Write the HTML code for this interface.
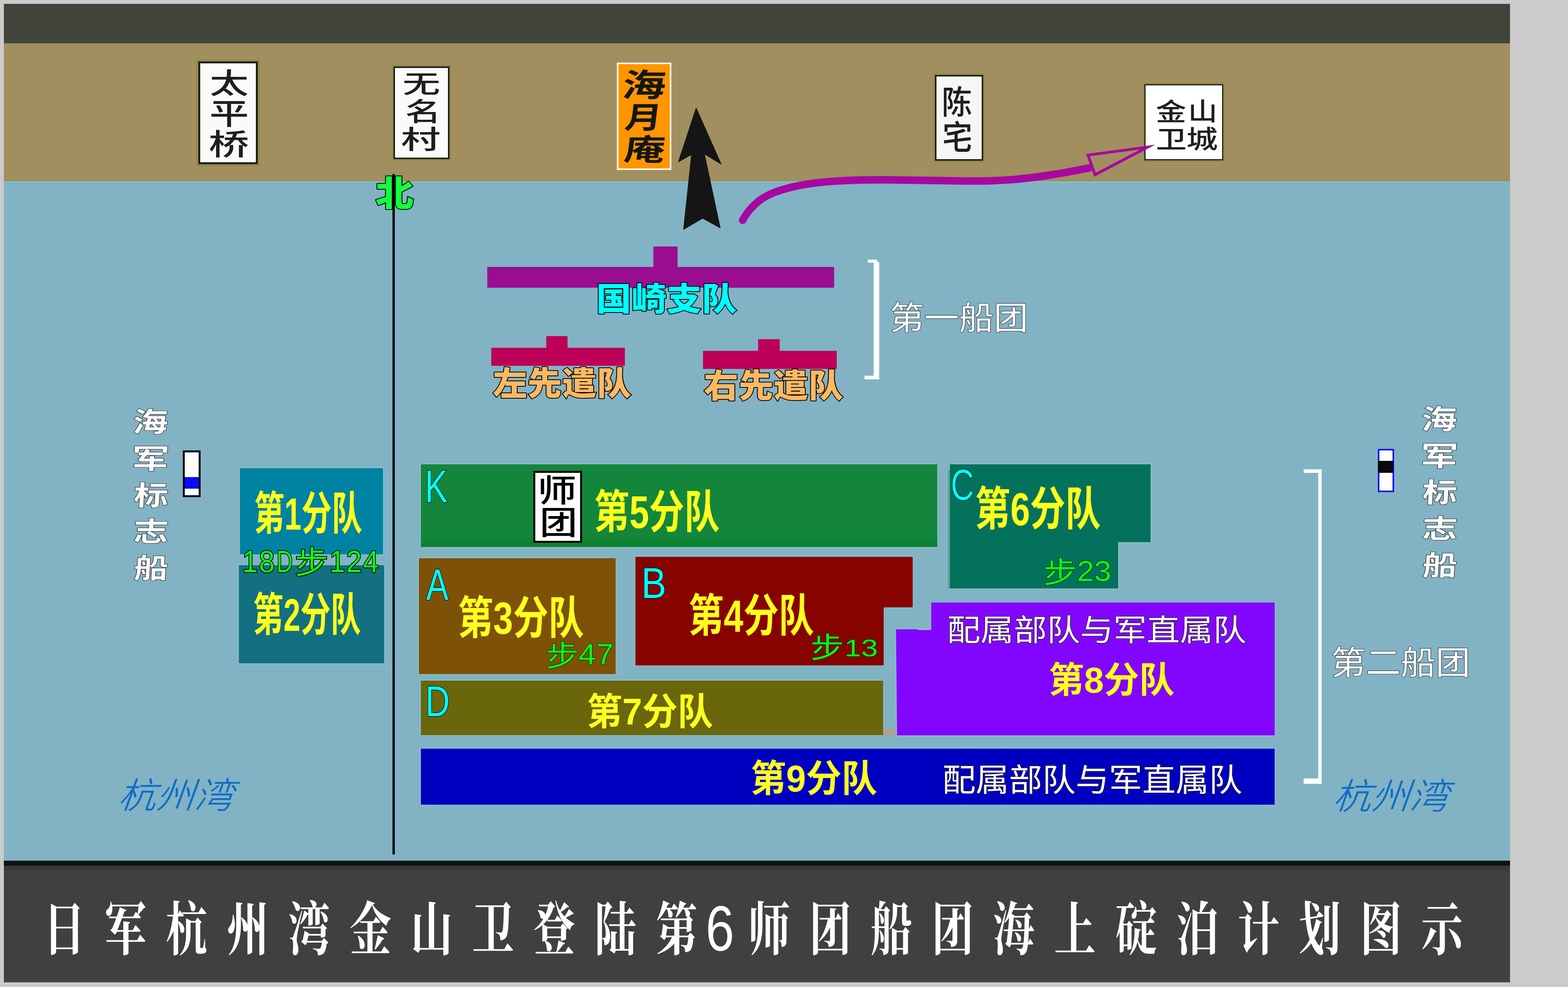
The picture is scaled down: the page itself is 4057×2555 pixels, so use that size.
<!DOCTYPE html><html lang="zh"><head><meta charset="utf-8"><title>日军杭州湾金山卫登陆第6师团船团海上碇泊计划图示</title><style>html,body{margin:0;padding:0}
body{width:4057px;height:2555px;background:#cbcbcb;position:relative;overflow:hidden;font-family:"Liberation Sans",sans-serif}
.r{position:absolute}
svg{position:absolute;left:0;top:0}
svg path{vector-effect:non-scaling-stroke}
.t{position:absolute;color:transparent;font-size:20px;line-height:1;overflow:hidden;white-space:nowrap}
</style></head><body>
<div class="r" style="left:10.0px;top:10.0px;width:3897.0px;height:101.5px;background:#42453b;"></div>
<div class="r" style="left:10.0px;top:111.5px;width:3897.0px;height:357.5px;background:#a28f5f;"></div>
<div class="r" style="left:10.0px;top:469.0px;width:3897.0px;height:1759.0px;background:#81b3c5;"></div>
<div class="r" style="left:10.0px;top:466.5px;width:3897.0px;height:2.5px;background:#958c48;"></div>
<div class="r" style="left:10.0px;top:469.0px;width:3897.0px;height:2.0px;background:#84c6c2;"></div>
<div class="r" style="left:10.0px;top:2228.0px;width:3897.0px;height:315.0px;background:#3f4040;background:linear-gradient(#10140f 0,#10140f 12.5px,#383a39 12.5px,#383a39 25px,#3f4040 25px,#3f4040 300px,#48483c 315px)"></div>
<div class="r" style="left:513.0px;top:159.0px;width:154.0px;height:266.0px;background:#fafafa;border:5.0px solid #1b2017;box-sizing:border-box;box-shadow:0 0 0 5px rgba(140,130,50,.55);"></div>
<div class="r" style="left:1018.0px;top:172.0px;width:144.6px;height:239.6px;background:#fafafa;border:4.5px solid #1b2017;box-sizing:border-box;box-shadow:0 0 0 4px rgba(140,130,50,.5);"></div>
<div class="r" style="left:1595.6px;top:162.3px;width:141.8px;height:277.7px;background:#ff9500;border:4.6px solid #fdfdf0;box-sizing:border-box;"></div>
<div class="r" style="left:2418.8px;top:194.0px;width:125.3px;height:222.0px;background:#f6f6f6;border:4.6px solid #1b2017;box-sizing:border-box;box-shadow:0 0 0 4px rgba(140,130,50,.5);"></div>
<div class="r" style="left:2961.0px;top:218.0px;width:204.4px;height:196.7px;background:#ffffff;border:3.8px solid #1b2017;box-sizing:border-box;box-shadow:0 0 0 4px rgba(140,130,50,.5);"></div>
<div class="r" style="left:472.7px;top:1165.9px;width:46.2px;height:120.8px;background:linear-gradient(#fff 0,#fff 64.3px,#0a0aff 64.3px,#0a0aff 94px,#fff 94px);border:5.0px solid #000;box-sizing:border-box;"></div>
<div class="r" style="left:3565.2px;top:1161.9px;width:41.6px;height:112.1px;background:#fff;border:4.3px solid #0a0aff;box-sizing:border-box;"></div>
<div class="r" style="left:3565.2px;top:1193.2px;width:40.3px;height:30.7px;background:#0a0a0a;"></div>
<div class="r" style="left:621.4px;top:1212.1px;width:369.4px;height:222.8px;background:#0082a2;box-shadow:0 0 0 3px rgba(150,205,190,.3);"></div>
<div class="r" style="left:617.7px;top:1462.6px;width:376.1px;height:254.9px;background:#137080;box-shadow:0 0 0 3px rgba(150,205,190,.3);"></div>
<div class="r" style="left:1089.2px;top:1202.4px;width:1335.8px;height:213.6px;background:#14863b;box-shadow:0 0 0 3px rgba(150,205,190,.3);background:linear-gradient(#14863b 0,#14863b 185px,#0c8230 205px)"></div>
<div class="r" style="left:1083.7px;top:1444.9px;width:509.6px;height:300.3px;background:#7e5108;box-shadow:0 0 0 3px rgba(150,205,190,.3);"></div>
<div class="r" style="left:1089.2px;top:1762.3px;width:1196.1px;height:140.9px;background:#69660b;box-shadow:0 0 0 3px rgba(150,205,190,.3);"></div>
<div class="r" style="left:2284.7px;top:1885.5px;width:35.8px;height:18.0px;background:#a8a295;"></div>
<div class="r" style="left:1089.2px;top:1938.4px;width:2208.8px;height:144.6px;background:#0000c0;box-shadow:0 0 0 3px rgba(150,205,190,.3);"></div>
<div class="r" style="left:2452.5px;top:1217.0px;width:6.5px;height:306.2px;background:#4f9c85;"></div>
<div class="r" style="left:1380.3px;top:1219.2px;width:125.6px;height:186.2px;background:#fff;border:5.0px solid #000;box-sizing:border-box;"></div>
<svg width="4057" height="2555" viewBox="0 0 4057 2555">
<g font-family="'Liberation Sans','Noto Sans CJK SC',sans-serif" font-weight="500" fill="#1e1e1e">
<text transform="matrix(1.3753 0 0 1 542.17 241.96)" font-size="73.41">太</text>
<text transform="matrix(1.3212 0 0 1 542.01 322.01)" font-size="77.03">平</text>
<text transform="matrix(1.3779 0 0 1 540.09 400.92)" font-size="75.86">桥</text>
<text transform="matrix(1.5236 0 0 1 1041.58 239.52)" font-size="64.08">无</text>
<text transform="matrix(1.3798 0 0 1 1048.40 312.98)" font-size="66.95">名</text>
<text transform="matrix(1.5258 0 0 1 1037.33 385.33)" font-size="67.34">村</text>
<text transform="matrix(0.9468 0 0 1 2436.14 295.39)" font-size="83.69">陈</text>
<text transform="matrix(0.9112 0 0 1 2438.01 386.56)" font-size="85.93">宅</text>
<text transform="matrix(1.2360 0 0 1 2990.24 312.48)" font-size="64.14">金</text>
<text transform="matrix(1.1863 0 0 1 3074.09 310.84)" font-size="63.72">山</text>
<text transform="matrix(1.2435 0 0 1 2990.49 382.53)" font-size="64.16">卫</text>
<text transform="matrix(1.2327 0 0 1 3069.57 384.25)" font-size="66.09">城</text>
</g>
<g font-family="'Liberation Sans','Noto Sans CJK SC',sans-serif" font-weight="700" fill="#15170f">
<text transform="matrix(1.3587 0 -0.1228 1 1607.08 250.18)" font-size="83.15">海</text>
<text transform="matrix(1.2275 0 -0.1228 1 1614.02 332.40)" font-size="77.8">月</text>
<text transform="matrix(1.3731 0 -0.1229 1 1612.05 415.31)" font-size="76.92">庵</text>
</g>
<text transform="matrix(1.0900 0 0 1 971.31 533.06)" font-size="90.9" font-family="'Liberation Sans','Noto Sans CJK SC',sans-serif" font-weight="900" fill="#14ff3c" stroke="#000" stroke-width="4" stroke-linejoin="round" paint-order="stroke">北</text>
<rect x="1015.5" y="450.5" width="6" height="1761.5" fill="#000"/>
<path d="M1801.2 279.6 L1866.1 425 L1822.7 398.5 L1863.5 590 L1818.1 565.1 L1768.5 594 L1789.2 400.3 L1755.1 419.2 Z" fill="#151515" stroke="#151515" stroke-width="1.5" stroke-linejoin="round"/>
<path d="M1921.5 570.3 C1935 545 1950 532 1963 520.4 C1990 500 2020 492 2046 485 C2075 478 2100 474.5 2129 471.4 C2160 468.5 2185 467 2212 466.4 C2245 465.6 2270 465.6 2295 465.6 C2340 466 2380 466.8 2420 467.3 C2465 468.2 2505 469 2544.5 468.5 C2575 468 2600 466.5 2627.5 464.4 C2655 461.5 2685 458 2710.6 454 C2740 449.5 2768 444.5 2793.7 439.5 C2805 437.5 2813 436 2823 433.8" fill="none" stroke="#a608a1" stroke-width="19.5"/><circle cx="1921.5" cy="570.3" r="9.75" fill="#a608a1"/>
<path d="M2969.6 380.8 L2815 401.5 L2833.3 452.3 Z" fill="none" stroke="#a608a1" stroke-width="7.2" stroke-linejoin="miter" stroke-miterlimit="12"/>
<path d="M1260.7 691H1690.5V638H1753.1V691H2158.2V744.8H1260.7Z" fill="#9b0d90"/>
<path d="M1271.1 900.2H1413.4V870H1468.5V900.2H1616.8V946.9H1271.1Z" fill="#bd0058"/>
<path d="M1818.9 908.2H1961.6V877.9H2017.5V908.2H2165V954.9H1818.9Z" fill="#bd0058"/>
<g font-family="'Liberation Sans','Noto Sans CJK SC',sans-serif" font-weight="900" stroke="#000" stroke-width="4" stroke-linejoin="round" paint-order="stroke">
<text transform="matrix(1.0880 0 0 1 1542.53 804.39)" font-size="83.74" fill="#00ffff">国崎支队</text>
<text transform="matrix(1.0494 0 0 1 1274.73 1022.85)" font-size="85.55" fill="#fdb863">左先遣队</text>
<text transform="matrix(1.0673 0 0 1 1820.55 1028.93)" font-size="84.71" fill="#fdb863">右先遣队</text>
</g>
<path d="M2245 672H2269V678H2274.8V982H2236.8V972.4H2260.5V680H2245Z" fill="#fff"/>
<text transform="matrix(1.0605 0 0 1 2302.03 853.03)" font-size="84.5" font-family="'Liberation Sans','Noto Sans CJK SC',sans-serif" fill="#fff" stroke="#333" stroke-width="2.4" stroke-linejoin="round" paint-order="stroke">第一船团</text>
<g font-family="'Liberation Sans','Noto Sans CJK SC',sans-serif" font-weight="700" fill="#fbfbfb" stroke="#333" stroke-width="2.4" stroke-linejoin="round" paint-order="stroke">
<text transform="matrix(1.2810 0 -0.0524 1 342.33 1118.19)" font-size="71.6">海</text>
<text transform="matrix(1.3653 0 -0.0525 1 339.39 1213.42)" font-size="71.1">军</text>
<text transform="matrix(1.2678 0 -0.0525 1 344.97 1307.50)" font-size="70.53">标</text>
<text transform="matrix(1.3090 0 -0.0524 1 343.85 1400.91)" font-size="69.84">志</text>
<text transform="matrix(1.2504 0 -0.0524 1 345.45 1496.00)" font-size="70.94">船</text>
<text transform="matrix(1.2899 0 -0.0524 1 3676.61 1111.49)" font-size="71.6">海</text>
<text transform="matrix(1.3750 0 -0.0525 1 3673.64 1206.12)" font-size="71.1">军</text>
<text transform="matrix(1.2788 0 -0.0524 1 3679.26 1300.11)" font-size="70.42">标</text>
<text transform="matrix(1.3546 0 -0.0523 1 3678.13 1392.76)" font-size="68.02">志</text>
<text transform="matrix(1.2592 0 -0.0524 1 3679.74 1489.40)" font-size="70.94">船</text>
</g>
<path d="M2457.6 1202.0 L2977.0 1202.0 L2977.0 1403.4 L2893.0 1403.4 L2893.0 1523.2 L2457.6 1523.2 Z" fill="#04715d" stroke="rgba(150,205,190,.3)" stroke-width="6" paint-order="stroke"/>
<path d="M1644.0 1441.6 L2361.5 1441.6 L2361.5 1572.2 L2286.5 1572.2 L2286.5 1722.5 L1644.0 1722.5 Z" fill="#860300" stroke="rgba(150,205,190,.3)" stroke-width="6" paint-order="stroke"/>
<path d="M2409.4 1559.5 L3298.1 1559.5 L3298.1 1903.6 L2321.0 1903.6 L2318.3 1629.0 L2375.0 1629.0 L2375.0 1631.0 L2409.4 1631.0 Z" fill="#8205fd" stroke="rgba(150,205,190,.3)" stroke-width="6" paint-order="stroke"/>
<g font-family="'Liberation Sans','Noto Sans CJK SC',sans-serif" font-weight="700" fill="#ffff1e">
<text transform="matrix(0.6683 0 0 1 657.45 1371.47)" font-size="117.68">第1分队</text>
<text transform="matrix(0.6621 0 0 1 654.85 1632.69)" font-size="118.63">第2分队</text>
<text transform="matrix(0.7741 0 0 1 1537.10 1366.53)" font-size="118.11">第5分队</text>
<text transform="matrix(0.7622 0 0 1 2522.70 1359.56)" font-size="120">第6分队</text>
<text transform="matrix(0.7864 0 0 1 1184.39 1641.06)" font-size="116.74">第3分队</text>
<text transform="matrix(0.7802 0 0 1 1781.20 1635.12)" font-size="117.16">第4分队</text>
<text transform="matrix(0.9795 0 0 1 2713.40 1793.10)" font-size="93.47">第8分队</text>
<text transform="matrix(0.9562 0 0 1 1518.18 1875.75)" font-size="96.21">第7分队</text>
<text transform="matrix(0.9566 0 0 1 1941.88 2048.54)" font-size="96.32">第9分队</text>
</g>
<g font-family="'Liberation Sans',sans-serif" fill="#00ffff" stroke="#1a0808" stroke-width="3" stroke-linejoin="round" paint-order="stroke">
<text transform="matrix(0.7421 0 0 1 1099.28 1300.20)" font-size="119.33">K</text>
<text transform="matrix(0.7369 0 0 1 2460.07 1294.40)" font-size="113.13">C</text>
<text transform="matrix(0.7533 0 0 1 1102.63 1552.60)" font-size="115.12">A</text>
<text transform="matrix(0.8770 0 0 1 1659.23 1547.80)" font-size="110.76">B</text>
<text transform="matrix(0.7896 0 0 1 1100.40 1853.50)" font-size="111.19">D</text>
</g>
<g font-family="'Liberation Sans','Noto Sans CJK SC',sans-serif" font-weight="500" fill="#000">
<text transform="matrix(1.2366 0 0 1 1390.81 1298.50)" font-size="81.71">师</text>
<text transform="matrix(1.1605 0 0 1 1396.19 1382.85)" font-size="84.12">团</text>
</g>
<g font-family="'Liberation Sans','Noto Sans CJK SC',sans-serif" fill="#0aff14" stroke="#000" stroke-width="4" stroke-linejoin="round" paint-order="stroke">
<text transform="matrix(0.9112 0 0 1 626.53 1480.87)" font-size="80.32" letter-spacing="3">18</text>
<text transform="matrix(0.7279 0 0 1 715.58 1480.87)" font-size="79.86">D</text>
<text transform="matrix(1.0672 0 0 1 762.82 1485.23)" font-size="81.38">步</text>
<text transform="matrix(0.9112 0 0 1 852.18 1480.87)" font-size="80.32" letter-spacing="3">124</text>
</g>
<g font-family="'Liberation Sans','Noto Sans CJK SC',sans-serif" fill="#0aff14" stroke="#0c2600" stroke-width="2.4" stroke-linejoin="round" paint-order="stroke">
<text transform="matrix(1.1509 0 0 1 2699.60 1508.64)" font-size="76">步</text>
<text transform="matrix(1.0811 0 0 1 2786.48 1503.58)" font-size="73.87">23</text>
<text transform="matrix(1.1243 0 0 1 1412.09 1724.54)" font-size="76.11">步</text>
<text transform="matrix(1.0811 0 0 1 1496.83 1720.40)" font-size="75.44">47</text>
<text transform="matrix(1.1608 0 0 1 2097.04 1703.46)" font-size="74.59">步</text>
<text transform="matrix(1.2210 0 0 1 2184.72 1698.58)" font-size="63.84">13</text>
</g>
<g font-family="'Liberation Sans','Noto Sans CJK SC',sans-serif" fill="#fff" stroke="#222" stroke-width="2.4" stroke-linejoin="round" paint-order="stroke">
<text transform="matrix(1.1036 0 0 1 2450.61 1659.27)" font-size="77.97">配属部队与军直属队</text>
<text transform="matrix(1.0511 0 0 1 2438.20 2047.73)" font-size="82.03">配属部队与军直属队</text>
</g>
<path d="M3373 1214.8H3419.6V2029H3373V2015H3410.8V1224H3373Z" fill="#fff"/>
<text transform="matrix(1.0609 0 0 1 3443.80 1745.88)" font-size="85.03" font-family="'Liberation Sans','Noto Sans CJK SC',sans-serif" fill="#fff" stroke="#333" stroke-width="2.4" stroke-linejoin="round" paint-order="stroke">第二船团</text>
<g font-family="'Liberation Sans','Noto Sans CJK SC',sans-serif" font-weight="300" fill="#0f6cc8" stroke="#0f6cc8" stroke-width="0.8" stroke-linejoin="round">
<text transform="matrix(1.0819 0 -0.3639 1 302.91 2091.51)" font-size="91.8">杭州湾</text>
<text transform="matrix(1.0812 0 -0.3640 1 3446.59 2093.69)" font-size="92.01">杭州湾</text>
</g>
<g font-family="'Liberation Serif','Noto Serif CJK SC',serif" font-weight="700" font-size="150" fill="#fff">
<text transform="matrix(0.72 0 0 1 112.0 2458.5)">日</text>
<text transform="matrix(0.72 0 0 1 270.5 2458.5)">军</text>
<text transform="matrix(0.72 0 0 1 429.0 2458.5)">杭</text>
<text transform="matrix(0.72 0 0 1 587.5 2458.5)">州</text>
<text transform="matrix(0.72 0 0 1 746.0 2458.5)">湾</text>
<text transform="matrix(0.72 0 0 1 904.5 2458.5)">金</text>
<text transform="matrix(0.72 0 0 1 1063.0 2458.5)">山</text>
<text transform="matrix(0.72 0 0 1 1221.5 2458.5)">卫</text>
<text transform="matrix(0.72 0 0 1 1380.0 2458.5)">登</text>
<text transform="matrix(0.72 0 0 1 1538.5 2458.5)">陆</text>
<text transform="matrix(0.72 0 0 1 1697.0 2458.5)">第</text>
<text transform="matrix(0.8053 0 0 1 1825.84 2460.39)" font-size="165.25" font-family="'Liberation Sans',sans-serif" font-weight="400">6</text>
<text transform="matrix(0.72 0 0 1 1936.0 2458.5)">师</text>
<text transform="matrix(0.72 0 0 1 2094.3 2458.5)">团</text>
<text transform="matrix(0.72 0 0 1 2252.6 2458.5)">船</text>
<text transform="matrix(0.72 0 0 1 2410.9 2458.5)">团</text>
<text transform="matrix(0.72 0 0 1 2569.2 2458.5)">海</text>
<text transform="matrix(0.72 0 0 1 2727.5 2458.5)">上</text>
<text transform="matrix(0.72 0 0 1 2885.8 2458.5)">碇</text>
<text transform="matrix(0.72 0 0 1 3044.1 2458.5)">泊</text>
<text transform="matrix(0.72 0 0 1 3202.4 2458.5)">计</text>
<text transform="matrix(0.72 0 0 1 3360.7 2458.5)">划</text>
<text transform="matrix(0.72 0 0 1 3519.0 2458.5)">图</text>
<text transform="matrix(0.72 0 0 1 3677.3 2458.5)">示</text>
</g>
</svg>
<span class="t" style="left:513px;top:159px;width:154px;height:266px">太平桥</span>
<span class="t" style="left:1018px;top:172px;width:144px;height:239px">无名村</span>
<span class="t" style="left:1595px;top:162px;width:142px;height:278px">海月庵</span>
<span class="t" style="left:2418px;top:194px;width:126px;height:222px">陈宅</span>
<span class="t" style="left:2961px;top:218px;width:204px;height:196px">金山卫城</span>
<span class="t" style="left:970px;top:454px;width:101px;height:88px">北</span>
<span class="t" style="left:1547px;top:730px;width:361px;height:85px">国崎支队</span>
<span class="t" style="left:1274px;top:947px;width:361px;height:86px">左先遣队</span>
<span class="t" style="left:1820px;top:954px;width:363px;height:85px">右先遣队</span>
<span class="t" style="left:2304px;top:780px;width:351px;height:82px">第一船团</span>
<span class="t" style="left:345px;top:1055px;width:90px;height:450px">海军标志船</span>
<span class="t" style="left:3680px;top:1049px;width:90px;height:449px">海军标志船</span>
<span class="t" style="left:660px;top:1270px;width:278px;height:112px">第1分队</span>
<span class="t" style="left:658px;top:1531px;width:278px;height:113px">第2分队</span>
<span class="t" style="left:1540px;top:1265px;width:323px;height:112px">第5分队</span>
<span class="t" style="left:2526px;top:1257px;width:324px;height:114px">第6分队</span>
<span class="t" style="left:1188px;top:1541px;width:325px;height:111px">第3分队</span>
<span class="t" style="left:1784px;top:1535px;width:323px;height:111px">第4分队</span>
<span class="t" style="left:2717px;top:1713px;width:324px;height:89px">第8分队</span>
<span class="t" style="left:1521px;top:1793px;width:325px;height:91px">第7分队</span>
<span class="t" style="left:1945px;top:1966px;width:326px;height:92px">第9分队</span>
<span class="t" style="left:1104px;top:1217px;width:60px;height:85px">K</span>
<span class="t" style="left:2462px;top:1213px;width:58px;height:85px">C</span>
<span class="t" style="left:1100px;top:1471px;width:62px;height:84px">A</span>
<span class="t" style="left:1665px;top:1469px;width:56px;height:81px">B</span>
<span class="t" style="left:1105px;top:1775px;width:57px;height:81px">D</span>
<span class="t" style="left:1380px;top:1219px;width:126px;height:186px">师团</span>
<span class="t" style="left:630px;top:1423px;width:357px;height:71px">18D步124</span>
<span class="t" style="left:2703px;top:1443px;width:171px;height:73px">步23</span>
<span class="t" style="left:1415px;top:1659px;width:169px;height:73px">步47</span>
<span class="t" style="left:2100px;top:1639px;width:170px;height:71px">步13</span>
<span class="t" style="left:2454px;top:1592px;width:770px;height:75px">配属部队与军直属队</span>
<span class="t" style="left:2441px;top:1977px;width:772px;height:79px">配属部队与军直属队</span>
<span class="t" style="left:3446px;top:1672px;width:353px;height:83px">第二船团</span>
<span class="t" style="left:312px;top:2013px;width:310px;height:87px">杭州湾</span>
<span class="t" style="left:3456px;top:2015px;width:310px;height:87px">杭州湾</span>
<span class="t" style="left:124px;top:2335px;width:3665px;height:136px">日军杭州湾金山卫登陆第6师团船团海上碇泊计划图示</span>
</body></html>
